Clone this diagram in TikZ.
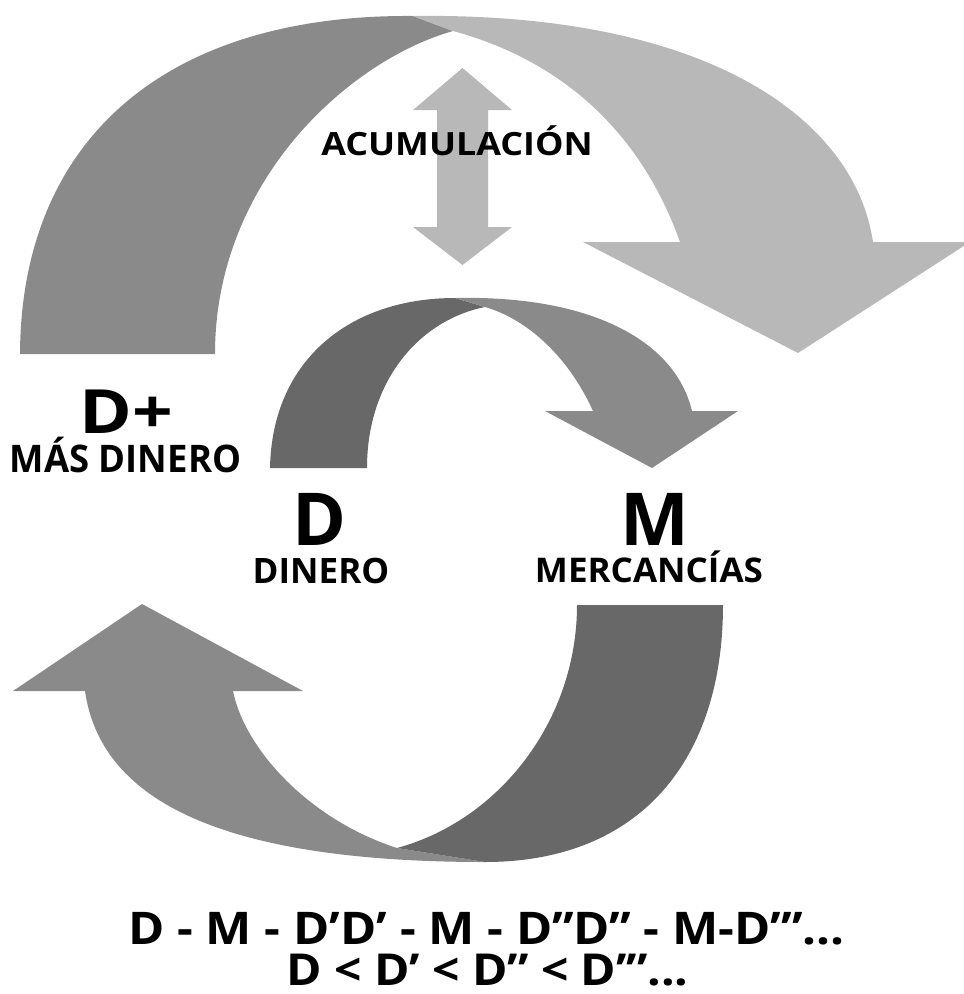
\documentclass[tikz,border=0pt]{standalone}
\usepackage{fontspec}
\setmainfont{Open Sans}
\begin{document}
\begin{tikzpicture}[x=1pt,y=-1pt,
  lbl/.style={font=\bfseries, anchor=base, inner sep=0pt, text=black},
]
\definecolor{cLight}{RGB}{184,184,184}
\definecolor{cMid}{RGB}{138,138,138}
\definecolor{cDark}{RGB}{104,104,104}
\useasboundingbox (0,0) rectangle (964,994);

% ---- top big arrow ----
\coordinate (tQ) at (413,16);
\coordinate (tP) at (453,31);
\fill[cMid] (20,354) .. controls (21,140) and (165,14) .. (tQ) -- (tP)
  .. controls (350,60) and (215,180) .. (215,354) -- cycle;
\fill[cLight] (tQ) .. controls (710,12) and (855,120) .. (873,242)
  -- (970,242) -- (798,353) -- (583,242) -- (680,242)
  .. controls (640,130) and (560,60) .. (tP) -- cycle;

% ---- double arrow ----
\fill[cLight] (462.5,68) -- (512,110) -- (488,110) -- (488,227) -- (512,227)
  -- (462.5,265) -- (413,227) -- (437,227) -- (437,110) -- (413,110) -- cycle;

% ---- middle arrow ----
\coordinate (mQ) at (455,298);
\coordinate (mP) at (485,307);
\fill[cDark] (270,468) .. controls (272,360) and (350,298) .. (mQ) -- (mP)
  .. controls (420,320) and (367,380) .. (367,468) -- cycle;
\fill[cMid] (mQ) .. controls (590,295) and (675,340) .. (692,411)
  -- (738,411) -- (652,468) -- (545,411) -- (593,411)
  .. controls (570,360) and (530,320) .. (mP) -- cycle;

% ---- bottom arrow ----
\coordinate (bQ) at (485,862);
\coordinate (bP) at (397,848);
\fill[cMid] (bP) .. controls (310,820) and (245,750) .. (233,691)
  -- (303,691) -- (142,604) -- (13,691) -- (85,691)
  .. controls (100,795) and (210,862) .. (bQ) -- cycle;
\fill[cDark] (577,605) -- (723,605) .. controls (723,760) and (640,862) .. (bQ)
  -- (bP) .. controls (500,820) and (577,720) .. cycle;

% ---- texts ----
\node[lbl, font=\bfseries\fontsize{32}{32}\selectfont] (acum) at (457,155) {\scalebox{1.12}[1]{ACUMULACIÓN}};
\node[lbl, font=\bfseries\fontsize{61}{61}\selectfont] (dplus) at (126,433) {\scalebox{1.17}[1]{D+}};
\node[lbl, font=\bfseries\fontsize{38}{38}\selectfont] (mas) at (125.5,472) {\scalebox{0.96}[1]{MÁS DINERO}};
\node[lbl, font=\bfseries\fontsize{73}{73}\selectfont] (d) at (320,545) {D};
\node[lbl, font=\bfseries\fontsize{35}{35}\selectfont] (din) at (321,583) {DINERO};
\node[lbl, font=\bfseries\fontsize{73}{73}\selectfont] (m) at (654.5,545) {M};
\node[lbl, font=\bfseries\fontsize{34}{34}\selectfont] (merc) at (649,582) {\scalebox{1.03}[1]{MERCANCÍAS}};
\node[lbl, font=\bfseries\fontsize{45}{45}\selectfont] (f1) at (486.5,944) {\scalebox{1.09}[1]{D - M - D’D’ - M - D’’D’’ - M-D’’’...}};
\node[lbl, font=\bfseries\fontsize{44}{44}\selectfont] (f2) at (487.5,985) {\scalebox{1.09}[1]{D < D’ < D’’ < D’’’...}};
\end{tikzpicture}
\end{document}
